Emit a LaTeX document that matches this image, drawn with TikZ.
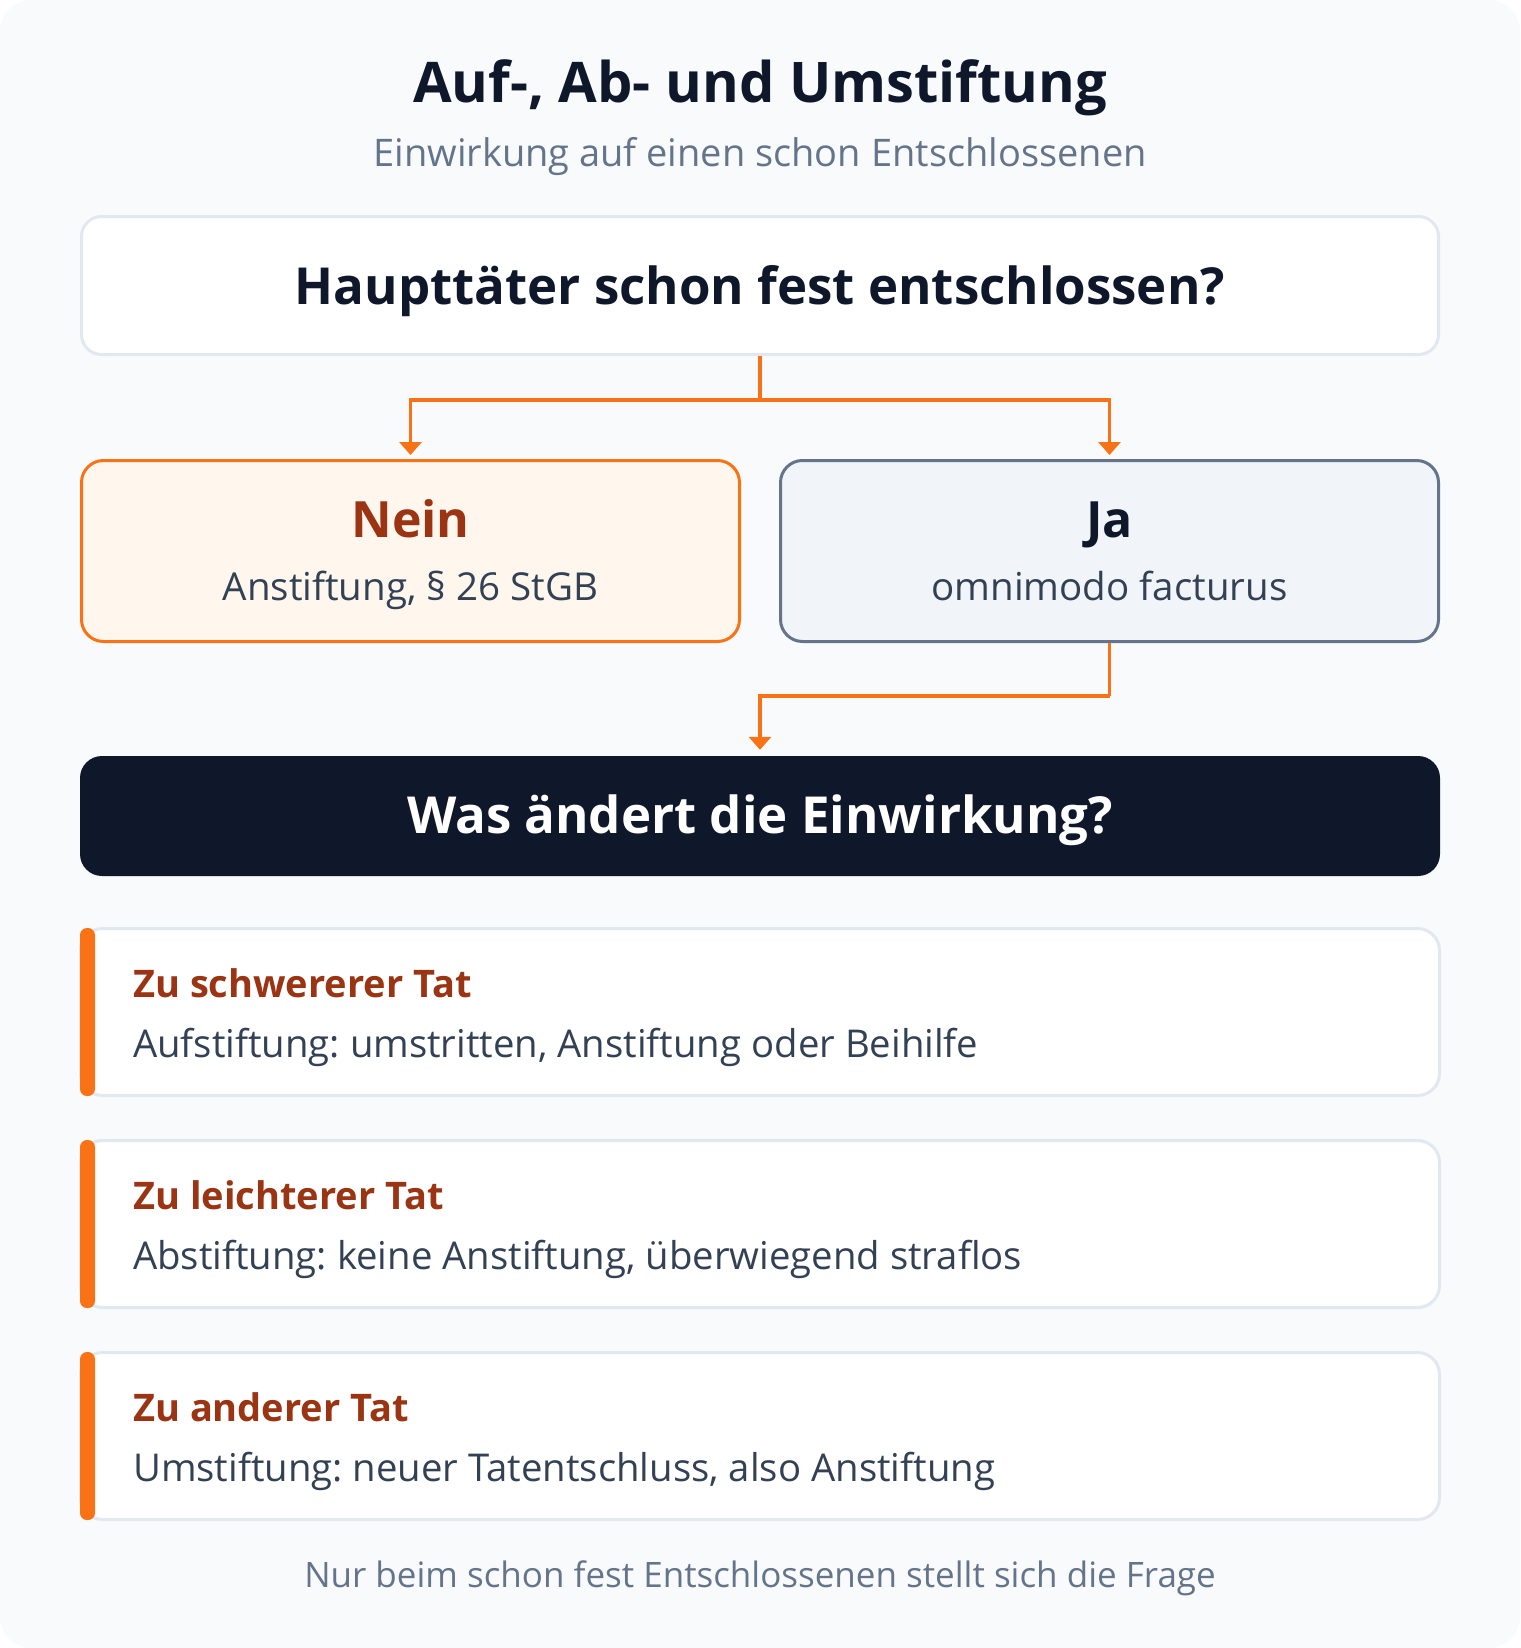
\documentclass[tikz,border=0pt]{standalone}
\usepackage{fontspec}
\setmainfont{Open Sans}
\usetikzlibrary{arrows.meta}
\frenchspacing
\definecolor{bgc}{HTML}{F8FAFC}
\definecolor{ink}{HTML}{0F172A}
\definecolor{muted}{HTML}{64748B}
\definecolor{bodyc}{HTML}{334155}
\definecolor{lineg}{HTML}{E2E8F0}
\definecolor{orangec}{HTML}{F97316}
\definecolor{rust}{HTML}{9A3412}
\definecolor{neinfill}{HTML}{FFF7ED}
\definecolor{jafill}{HTML}{F1F5F9}
\definecolor{jaline}{HTML}{64748B}
\tikzset{
  txt/.style={inner sep=0pt, anchor=base},
  qbox/.style={draw=lineg, line width=3pt, fill=white, rounded corners=20pt, minimum width=1357pt, minimum height=138pt, inner sep=0pt},
  neinbox/.style={draw=orangec, line width=3pt, fill=neinfill, rounded corners=22pt, minimum width=658pt, minimum height=181pt, inner sep=0pt},
  jabox/.style={draw=jaline, line width=3pt, fill=jafill, rounded corners=22pt, minimum width=658pt, minimum height=181pt, inner sep=0pt},
  darkbox/.style={fill=ink, rounded corners=22pt, minimum width=1360pt, minimum height=120pt, inner sep=0pt},
  card/.style={draw=lineg, line width=3pt, fill=white, rounded corners=22pt, minimum width=1359pt, minimum height=167pt, inner sep=0pt},
  conn/.style={draw=orangec, line width=3.5pt, -{Triangle[length=13pt,width=22pt]}},
  bar/.style={fill=orangec, rounded corners=7pt},
}
\begin{document}
\begin{tikzpicture}[x=1pt,y=-1pt]
\useasboundingbox (0,0) rectangle (1520,1648);
\fill[white] (0,0) rectangle (1520,1648);
\fill[bgc, rounded corners=32pt] (0,0) rectangle (1520,1648);

% title
\node[txt, text=ink, font=\fontsize{56}{62}\selectfont\bfseries] (title) at (760,103) {Auf-, Ab- und Umstiftung};
\node[txt, text=muted, font=\fontsize{38}{44}\selectfont] (subtitle) at (760,167) {Einwirkung auf einen schon Entschlossenen};

% question
\node[qbox] (q) at (760,285.5) {};
\node[txt, text=ink, font=\fontsize{51}{58}\selectfont\bfseries] (qt) at (760,304) {Haupttäter schon fest entschlossen?};

% nein / ja
\node[neinbox] (nein) at (410.5,551) {};
\node[txt, text=rust, font=\fontsize{50}{56}\selectfont\bfseries] (neint) at (410.5,537) {Nein};
\node[txt, text=bodyc, font=\fontsize{38.5}{44}\selectfont] (neins) at (410.5,600) {Anstiftung, § 26 StGB};

\node[jabox] (ja) at (1109.5,551) {};
\node[txt, text=ink, font=\fontsize{50}{56}\selectfont\bfseries] (jat) at (1109.5,537) {Ja};
\node[txt, text=bodyc, font=\fontsize{38.5}{44}\selectfont] (jas) at (1109.5,600) {omnimodo facturus};

% dark box
\node[darkbox] (was) at (760,816) {};
\node[txt, text=white, font=\fontsize{51}{58}\selectfont\bfseries] (wast) at (760,833) {Was ändert die Einwirkung?};

% connectors
\coordinate (split) at (760,400);
\draw[conn, -] (q.south) -- (split);
\draw[conn, shorten >=4pt] (split) -| (nein.north);
\draw[conn, shorten >=4pt] (split) -| (ja.north);
\coordinate (join) at (1109.5,696);
\draw[conn, -] (ja.south) -- (join);
\draw[conn, shorten >=6pt] (join) -| (was.north);

% cards
\foreach \i/\y/\head/\body in {
  1/1012/Zu schwererer Tat/{Aufstiftung: umstritten, Anstiftung oder Beihilfe},
  2/1224/Zu leichterer Tat/{Abstiftung: keine Anstiftung, überwiegend straflos},
  3/1436/Zu anderer Tat/{Umstiftung: neuer Tatentschluss, also Anstiftung}}{
  \node[card] (card\i) at (760,\y) {};
  \fill[bar] (80,\y-84) rectangle (95,\y+84);
  \node[txt, anchor=base west, text=rust, font=\fontsize{38}{44}\selectfont\bfseries] (head\i) at (133,\y-15) {\head};
  \node[txt, anchor=base west, text=bodyc, font=\fontsize{38.3}{44}\selectfont] (body\i) at (133,\y+45) {\body};
}

% footnote
\node[txt, text=muted, font=\fontsize{35}{40}\selectfont] (foot) at (760,1587) {Nur beim schon fest Entschlossenen stellt sich die Frage};
\end{tikzpicture}
\end{document}
